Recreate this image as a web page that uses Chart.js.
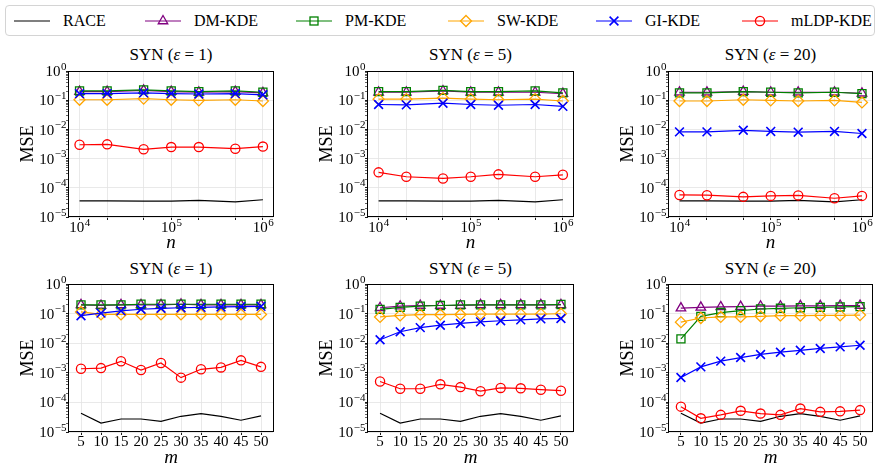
<!DOCTYPE html>
<html>
<head>
<meta charset="utf-8">
<script src="https://cdn.jsdelivr.net/npm/chart.js@4"></script>
<style>
  body { margin: 0; width: 880px; height: 469px; background: #fff; position: relative; overflow: hidden; font-family: "Liberation Serif", serif; color: #000; }
  canvas { position: absolute; }
  .ttl { position: absolute; font-size: 17px; line-height: 20px; text-align: center; white-space: nowrap; }
  #legend { position: absolute; left: 5px; top: 5px; width: 868px; height: 29px; border: 1px solid #d4d4d4; border-radius: 4px; }
  .li { position: absolute; top: 0; height: 29px; display: flex; align-items: center; font-size: 16px; }
  .li svg { margin-right: 13px; }
</style>
</head>
<body>
<div id="legend"></div>
<script>
const nValues = [1e4, 2e4, 5e4, 1e5, 2e5, 5e5, 1e6];
const nTickLabels = [1e4, 1e5, 1e6];
const mValues = [5, 10, 15, 20, 25, 30, 35, 40, 45, 50];
const epsilons = [1, 5, 20];
const methods = ["RACE", "DM-KDE", "PM-KDE", "SW-KDE", "GI-KDE", "mLDP-KDE"];
const yDecades = [1e-5, 1e-4, 1e-3, 1e-2, 1e-1, 1];

// MSE against n
const raceN = [3.6e-5, 3.6e-5, 3.5e-5, 3.5e-5, 3.7e-5, 3.3e-5, 3.9e-5];
const dmN1 = [0.20, 0.20, 0.22, 0.20, 0.19, 0.20, 0.18];
const pmN1 = [0.21, 0.21, 0.23, 0.21, 0.20, 0.21, 0.19];
const swN1 = [0.105, 0.105, 0.115, 0.105, 0.10, 0.105, 0.095];
const giN1 = [0.17, 0.17, 0.18, 0.17, 0.165, 0.17, 0.155];
const mldpN1 = [3.0e-3, 3.1e-3, 2.1e-3, 2.5e-3, 2.5e-3, 2.2e-3, 2.6e-3];

const dmN5 = [0.19, 0.19, 0.21, 0.19, 0.19, 0.19, 0.17];
const pmN5 = [0.20, 0.20, 0.22, 0.20, 0.20, 0.21, 0.18];
const swN5 = [0.11, 0.11, 0.12, 0.11, 0.105, 0.11, 0.095];
const giN5 = [0.072, 0.070, 0.080, 0.072, 0.068, 0.072, 0.062];
const mldpN5 = [3.4e-4, 2.4e-4, 2.1e-4, 2.4e-4, 2.9e-4, 2.4e-4, 2.8e-4];

const dmN20 = [0.19, 0.19, 0.20, 0.19, 0.19, 0.19, 0.175];
const pmN20 = [0.18, 0.18, 0.20, 0.19, 0.18, 0.19, 0.17];
const swN20 = [0.095, 0.095, 0.105, 0.10, 0.095, 0.10, 0.085];
const giN20 = [8.3e-3, 8.3e-3, 9.4e-3, 8.6e-3, 8.1e-3, 8.6e-3, 7.3e-3];
const mldpN20 = [5.7e-5, 5.6e-5, 4.9e-5, 5.3e-5, 5.5e-5, 4.4e-5, 5.3e-5];

// MSE against m
const raceM = [4.3e-5, 2.0e-5, 2.75e-5, 2.75e-5, 2.3e-5, 3.4e-5, 4.2e-5, 3.4e-5, 2.5e-5, 3.5e-5];
const dmM1 = [0.20, 0.19, 0.20, 0.20, 0.20, 0.21, 0.20, 0.20, 0.20, 0.20];
const pmM1 = [0.20, 0.20, 0.20, 0.21, 0.21, 0.21, 0.21, 0.21, 0.21, 0.21];
const swM1 = [0.115, 0.095, 0.095, 0.095, 0.095, 0.095, 0.095, 0.095, 0.095, 0.095];
const giM1 = [0.086, 0.105, 0.125, 0.142, 0.153, 0.16, 0.165, 0.17, 0.174, 0.178];
const mldpM1 = [1.38e-3, 1.45e-3, 2.46e-3, 1.25e-3, 2.17e-3, 6.9e-4, 1.32e-3, 1.53e-3, 2.65e-3, 1.6e-3];

const dmM5 = [0.16, 0.18, 0.19, 0.19, 0.19, 0.20, 0.20, 0.20, 0.20, 0.20];
const pmM5 = [0.14, 0.165, 0.18, 0.19, 0.20, 0.20, 0.20, 0.20, 0.20, 0.206];
const swM5 = [0.078, 0.088, 0.093, 0.093, 0.095, 0.097, 0.097, 0.097, 0.097, 0.10];
const giM5 = [0.0132, 0.0246, 0.034, 0.041, 0.047, 0.053, 0.058, 0.062, 0.067, 0.069];
const mldpM5 = [5.1e-4, 2.9e-4, 2.9e-4, 4.1e-4, 3.3e-4, 2.4e-4, 3.1e-4, 3.0e-4, 2.7e-4, 2.5e-4];

const dmM20 = [0.155, 0.165, 0.17, 0.175, 0.18, 0.18, 0.185, 0.185, 0.19, 0.19];
const pmM20 = [0.0142, 0.082, 0.11, 0.128, 0.145, 0.153, 0.16, 0.165, 0.17, 0.174];
const swM20 = [0.052, 0.072, 0.078, 0.078, 0.082, 0.086, 0.086, 0.088, 0.088, 0.09];
const giM20 = [7.0e-4, 1.6e-3, 2.5e-3, 3.3e-3, 4.2e-3, 5.0e-3, 5.8e-3, 6.7e-3, 7.6e-3, 8.6e-3];
const mldpM20 = [7.2e-5, 2.9e-5, 3.8e-5, 5.2e-5, 4.2e-5, 3.8e-5, 6.2e-5, 4.8e-5, 5.0e-5, 5.5e-5];

// styling
const FONT = "'Liberation Serif', 'Times New Roman', serif";
const colors = ["#000000", "#800080", "#008000", "#ffa500", "#0000ff", "#ff0000"];
const markers = [false, "triangle", "rect", "rectRot", "crossRot", "circle"];
const markerRadius = [0, 5.5, 5.7, 5.5, 6.2, 4.6];
const gridColor = "#e3e3e3";

const colLeft = [69, 368, 669];
const colRight = [273, 573, 872];
const rowTop = [65, 278];
const rowBottom = [217, 432];
const Y_AXIS_W = 66, X_AXIS_H = 38, PAD_TOP = 2, PAD_RIGHT = 8;

const panels = [
  { row: 0, col: 0, xKey: "n", eps: epsilons[0], series: [raceN, dmN1, pmN1, swN1, giN1, mldpN1] },
  { row: 0, col: 1, xKey: "n", eps: epsilons[1], series: [raceN, dmN5, pmN5, swN5, giN5, mldpN5] },
  { row: 0, col: 2, xKey: "n", eps: epsilons[2], series: [raceN, dmN20, pmN20, swN20, giN20, mldpN20] },
  { row: 1, col: 0, xKey: "m", eps: epsilons[0], series: [raceM, dmM1, pmM1, swM1, giM1, mldpM1] },
  { row: 1, col: 1, xKey: "m", eps: epsilons[1], series: [raceM, dmM5, pmM5, swM5, giM5, mldpM5] },
  { row: 1, col: 2, xKey: "m", eps: epsilons[2], series: [raceM, dmM20, pmM20, swM20, giM20, mldpM20] },
];

const isDecade = (v) => Math.abs(Math.log10(v) - Math.round(Math.log10(v))) < 1e-9;

const yTickValues = [];
yDecades.forEach((d, i) => {
  yTickValues.push(d);
  if (i < yDecades.length - 1) for (let k = 2; k <= 9; k++) yTickValues.push(k * d);
});

const frame = {
  id: "frame",
  afterDraw(chart) {
    const { ctx, chartArea: a } = chart;
    ctx.save();
    ctx.strokeStyle = "#000";
    ctx.lineWidth = 1;
    ctx.strokeRect(Math.round(a.left) - 0.5, Math.round(a.top) + 0.5, Math.round(a.right - a.left) + 1, Math.round(a.bottom - a.top) - 1);
    ctx.restore();
  },
};

// "10" with a raised exponent, like the mathtext labels of the original
const powerLabels = {
  id: "powerLabels",
  afterDraw(chart) {
    const { ctx, scales } = chart;
    const drawPow = (v, x, y, align) => {
      const e = Math.round(Math.log10(v));
      const exp = e < 0 ? "\u2212" + -e : String(e);
      ctx.font = `15px ${FONT}`;
      const wb = ctx.measureText("10").width;
      ctx.font = `11px ${FONT}`;
      const we = ctx.measureText(exp).width;
      const x0 = align === "right" ? x - wb - we : x - (wb + we) / 2;
      ctx.font = `15px ${FONT}`;
      ctx.fillText("10", x0, y + 5);
      ctx.font = `11px ${FONT}`;
      ctx.fillText(exp, x0 + wb + 0.5, y - 1.5);
    };
    ctx.save();
    ctx.fillStyle = "#000";
    ctx.textAlign = "left";
    ctx.textBaseline = "alphabetic";
    yDecades.forEach((v) => drawPow(v, chart.chartArea.left - 3, scales.y.getPixelForValue(v), "right"));
    if (scales.x.type === "logarithmic") {
      nTickLabels.forEach((v) => drawPow(v, scales.x.getPixelForValue(v), chart.chartArea.bottom + 10, "center"));
    }
    ctx.restore();
  },
};

const buildPanel = (p) => {
  const left = colLeft[p.col], right = colRight[p.col];
  const top = rowTop[p.row], bottom = rowBottom[p.row];
  const xs = p.xKey === "n" ? nValues : mValues;

  const title = document.createElement("div");
  title.className = "ttl";
  title.style.left = left + "px";
  title.style.width = right - left + "px";
  title.style.top = top - 20 + (p.row ? 1 : 0) + "px";
  title.innerHTML = `SYN (<i>ε</i> = ${p.eps})`;
  document.body.appendChild(title);

  const canvas = document.createElement("canvas");
  canvas.width = Y_AXIS_W + (right - left) + PAD_RIGHT;
  canvas.height = PAD_TOP + (bottom - top) + X_AXIS_H;
  canvas.style.left = left - Y_AXIS_W + "px";
  canvas.style.top = top - PAD_TOP + "px";
  document.body.appendChild(canvas);

  const datasets = p.series.map((vals, i) => ({
    label: methods[i],
    data: vals.map((y, j) => ({ x: xs[j], y })),
    borderColor: colors[i],
    borderWidth: 1.2,
    pointStyle: markers[i],
    pointRadius: markerRadius[i],
    pointBorderWidth: i === 4 ? 1.6 : 1.3,
    pointBorderColor: colors[i],
    pointBackgroundColor: "rgba(0,0,0,0)",
    tension: 0,
    order: -i,
  }));

  const xScale = p.xKey === "n"
    ? { type: "logarithmic", min: Math.pow(10, 3.885), max: Math.pow(10, 6.11),
        afterBuildTicks: (s) => { s.ticks = nValues.map((v) => ({ value: v })); },
        ticks: { callback: () => "" } }
    : { type: "linear", min: 2, max: 53,
        afterBuildTicks: (s) => { s.ticks = mValues.map((v) => ({ value: v })); },
        ticks: { callback: (v) => String(v) } };

  Object.assign(xScale.ticks, { autoSkip: false, maxRotation: 0, padding: 0, color: "#000", font: { family: FONT, size: 15, lineHeight: 1 } });
  xScale.afterFit = (s) => { s.height = X_AXIS_H; };
  xScale.border = { display: false };
  xScale.grid = { color: gridColor, lineWidth: 0.8, tickColor: "#000", tickLength: 3, tickWidth: 0.9 };
  xScale.title = { display: true, text: p.xKey, color: "#000", font: { family: FONT, size: 19, style: "italic", lineHeight: 1 }, padding: { top: 0, bottom: 2.5 } };

  new Chart(canvas, {
    type: "line",
    data: { datasets },
    options: {
      responsive: false,
      animation: false,
      events: [],
      layout: { padding: { top: PAD_TOP, right: PAD_RIGHT, left: 0, bottom: 0 } },
      plugins: { legend: { display: false }, tooltip: { enabled: false } },
      scales: {
        x: xScale,
        y: {
          type: "logarithmic",
          min: 1e-5,
          max: 1,
          afterBuildTicks: (s) => { s.ticks = yTickValues.map((v) => ({ value: v })); },
          afterFit: (s) => { s.width = Y_AXIS_W; },
          border: { display: false },
          grid: {
            color: (c) => (isDecade(c.tick.value) ? gridColor : "rgba(0,0,0,0)"),
            lineWidth: 0.8,
            tickColor: "#000",
            tickLength: 3,
            tickWidth: (c) => (isDecade(c.tick.value) ? 0.9 : 0.6),
          },
          ticks: { callback: () => "", autoSkip: false, padding: 1 },
          title: { display: true, text: "MSE", color: "#000", font: { family: FONT, size: 18, lineHeight: 1 }, padding: { top: 16, bottom: 0 } },
        },
      },
    },
    plugins: [frame, powerLabels],
  });
};

panels.forEach(buildPanel);

// legend
const legendLeft = [14, 145, 296, 448, 596, 742];
const symbolSvg = (i) => {
  const c = colors[i];
  const cx = 18, cy = 7;
  let m = "";
  if (markers[i] === "triangle") m = `<polygon points="${cx},${cy - 5.5} ${cx + 4.76},${cy + 2.75} ${cx - 4.76},${cy + 2.75}" fill="none" stroke="${c}" stroke-width="1.3"/>`;
  if (markers[i] === "rect") m = `<rect x="${cx - 4}" y="${cy - 4}" width="8" height="8" fill="none" stroke="${c}" stroke-width="1.3"/>`;
  if (markers[i] === "rectRot") m = `<polygon points="${cx},${cy - 5.5} ${cx + 5.5},${cy} ${cx},${cy + 5.5} ${cx - 5.5},${cy}" fill="none" stroke="${c}" stroke-width="1.3"/>`;
  if (markers[i] === "crossRot") m = `<path d="M${cx - 4.4},${cy - 4.4}L${cx + 4.4},${cy + 4.4}M${cx - 4.4},${cy + 4.4}L${cx + 4.4},${cy - 4.4}" stroke="${c}" stroke-width="1.6"/>`;
  if (markers[i] === "circle") m = `<circle cx="${cx}" cy="${cy}" r="4.6" fill="none" stroke="${c}" stroke-width="1.3"/>`;
  return `<svg width="36" height="14"><line x1="0" y1="${cy}" x2="36" y2="${cy}" stroke="${c}" stroke-width="1.2"/>${m}</svg>`;
};
const legend = document.getElementById("legend");
methods.forEach((name, i) => {
  const item = document.createElement("div");
  item.className = "li";
  item.style.left = legendLeft[i] - 6 + "px";
  item.innerHTML = symbolSvg(i) + `<span>${name}</span>`;
  legend.appendChild(item);
});
</script>
</body>
</html>
